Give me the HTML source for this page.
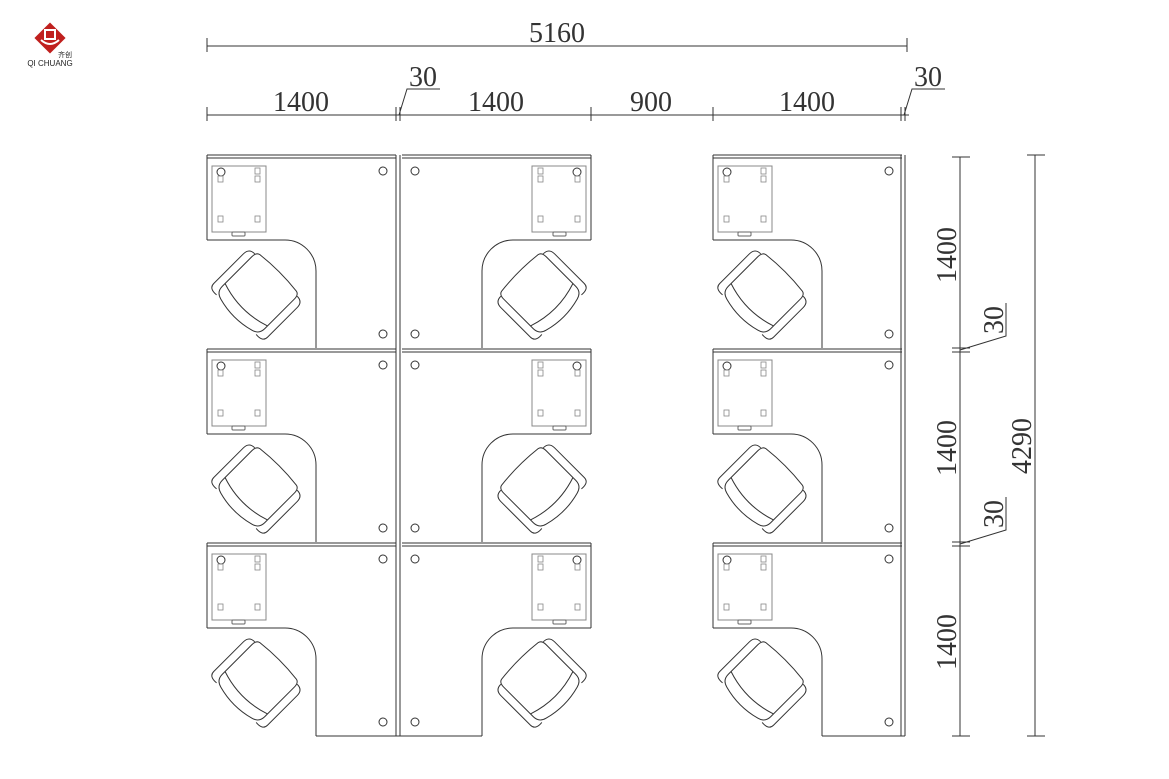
<!DOCTYPE html>
<html><head><meta charset="utf-8"><style>
body{margin:0;background:#fff;}
svg{display:block;}
text{font-family:"Liberation Serif",serif;fill:#333;}
</style></head><body>
<svg width="1169" height="779" viewBox="0 0 1169 779" xmlns="http://www.w3.org/2000/svg">
<defs>
<g id="m" fill="none" stroke="#333" stroke-width="1">
  <line x1="0" y1="0" x2="189" y2="0"/>
  <line x1="0" y1="3" x2="189" y2="3"/>
  <line x1="0" y1="0" x2="0" y2="85"/>
  <path d="M0,85 H78 A31,31 0 0 1 109,116 V193"/>
  <rect x="5" y="11" width="54" height="66" stroke="#888"/>
  <rect x="25" y="77" width="13" height="4" rx="1" stroke="#666"/>
  <circle cx="14" cy="17" r="4"/>
  <g stroke="#888" stroke-width="0.8">
    <rect x="11" y="21" width="5" height="6"/><rect x="48" y="13" width="5" height="6"/><rect x="48" y="21" width="5" height="6"/>
    <rect x="11" y="61" width="5" height="6"/><rect x="48" y="61" width="5" height="6"/>
  </g>
  <circle cx="176" cy="16" r="4"/>
  <circle cx="176" cy="179" r="4"/>
  <g transform="translate(52,137) rotate(45)">
    <path d="M-26,-27 Q0,-30 26,-27 Q30,-26 30,-20 L30,22 Q30,30 22,32 Q0,38 -22,32 Q-30,30 -30,22 L-30,-20 Q-30,-26 -26,-27 Z"/>
    <path d="M-30,-24 Q-38,-24 -38,-16 L-38,26 Q-38,33 -28,32"/>
    <path d="M30,-24 Q38,-24 38,-16 L38,26 Q38,33 28,32"/>
    <path d="M-30,18 Q0,28 30,18"/>
  </g>
</g>
</defs>
<g>
<use href="#m" x="207" y="155"/><use href="#m" x="207" y="349"/><use href="#m" x="207" y="543"/>
<use href="#m" transform="translate(591,155) scale(-1,1)"/><use href="#m" transform="translate(591,349) scale(-1,1)"/><use href="#m" transform="translate(591,543) scale(-1,1)"/>
<use href="#m" x="713" y="155"/><use href="#m" x="713" y="349"/><use href="#m" x="713" y="543"/>
</g>
<g stroke="#333" stroke-width="1" fill="none">
  <line x1="396" y1="155" x2="396" y2="736"/><line x1="400" y1="155" x2="400" y2="736"/>
  <line x1="901" y1="155" x2="901" y2="736"/><line x1="905" y1="155" x2="905" y2="736"/>
  <line x1="316" y1="736" x2="482" y2="736"/>
  <line x1="822" y1="736" x2="905" y2="736"/>
  <line x1="207" y1="46" x2="907" y2="46"/>
  <line x1="207" y1="38" x2="207" y2="52"/><line x1="907" y1="38" x2="907" y2="52"/>
  <line x1="207" y1="115" x2="909" y2="115"/>
  <line x1="207" y1="107" x2="207" y2="121"/><line x1="396" y1="107" x2="396" y2="121"/><line x1="400" y1="107" x2="400" y2="121"/>
  <line x1="591" y1="107" x2="591" y2="121"/><line x1="713" y1="107" x2="713" y2="121"/><line x1="901" y1="107" x2="901" y2="121"/><line x1="905" y1="107" x2="905" y2="121"/>
  <path d="M399,115 L407,89 H440"/>
  <path d="M904,115 L912,89 H945"/>
  <line x1="960" y1="157" x2="960" y2="736"/>
  <line x1="952" y1="157" x2="970" y2="157"/><line x1="952" y1="348" x2="970" y2="348"/><line x1="952" y1="352" x2="970" y2="352"/>
  <line x1="952" y1="542" x2="970" y2="542"/><line x1="952" y1="546" x2="970" y2="546"/><line x1="952" y1="736" x2="970" y2="736"/>
  <line x1="1035" y1="155" x2="1035" y2="736"/>
  <line x1="1027" y1="155" x2="1045" y2="155"/><line x1="1027" y1="736" x2="1045" y2="736"/>
  <path d="M960,350 L1006,336 V303"/>
  <path d="M960,544 L1006,530 V497"/>
</g>
<g font-size="28">
  <text x="557" y="42" text-anchor="middle">5160</text>
  <text x="301" y="111" text-anchor="middle">1400</text>
  <text x="496" y="111" text-anchor="middle">1400</text>
  <text x="651" y="111" text-anchor="middle">900</text>
  <text x="807" y="111" text-anchor="middle">1400</text>
  <text x="423" y="86" text-anchor="middle">30</text>
  <text x="928" y="86" text-anchor="middle">30</text>
  <text transform="translate(956,255) rotate(-90)" text-anchor="middle">1400</text>
  <text transform="translate(956,448) rotate(-90)" text-anchor="middle">1400</text>
  <text transform="translate(956,642) rotate(-90)" text-anchor="middle">1400</text>
  <text transform="translate(1003,320) rotate(-90)" text-anchor="middle">30</text>
  <text transform="translate(1003,514) rotate(-90)" text-anchor="middle">30</text>
  <text transform="translate(1031,446) rotate(-90)" text-anchor="middle">4290</text>
</g>
<g transform="translate(50,38)">
  <rect x="-11" y="-11" width="22" height="22" fill="#c0201e" transform="rotate(45)"/>
  <rect x="-5" y="-8" width="10" height="9" fill="none" stroke="#fff" stroke-width="2"/>
  <path d="M-9,2 Q0,10 9,2" fill="none" stroke="#fff" stroke-width="2"/>
</g>
<text x="58" y="57" font-size="7" style="font-family:'Noto Sans CJK SC',sans-serif;fill:#222">齐创</text>
<text x="50" y="66" font-size="8" text-anchor="middle" style="font-family:'Liberation Sans',sans-serif;fill:#222">QI CHUANG</text>
</svg>
</body></html>
